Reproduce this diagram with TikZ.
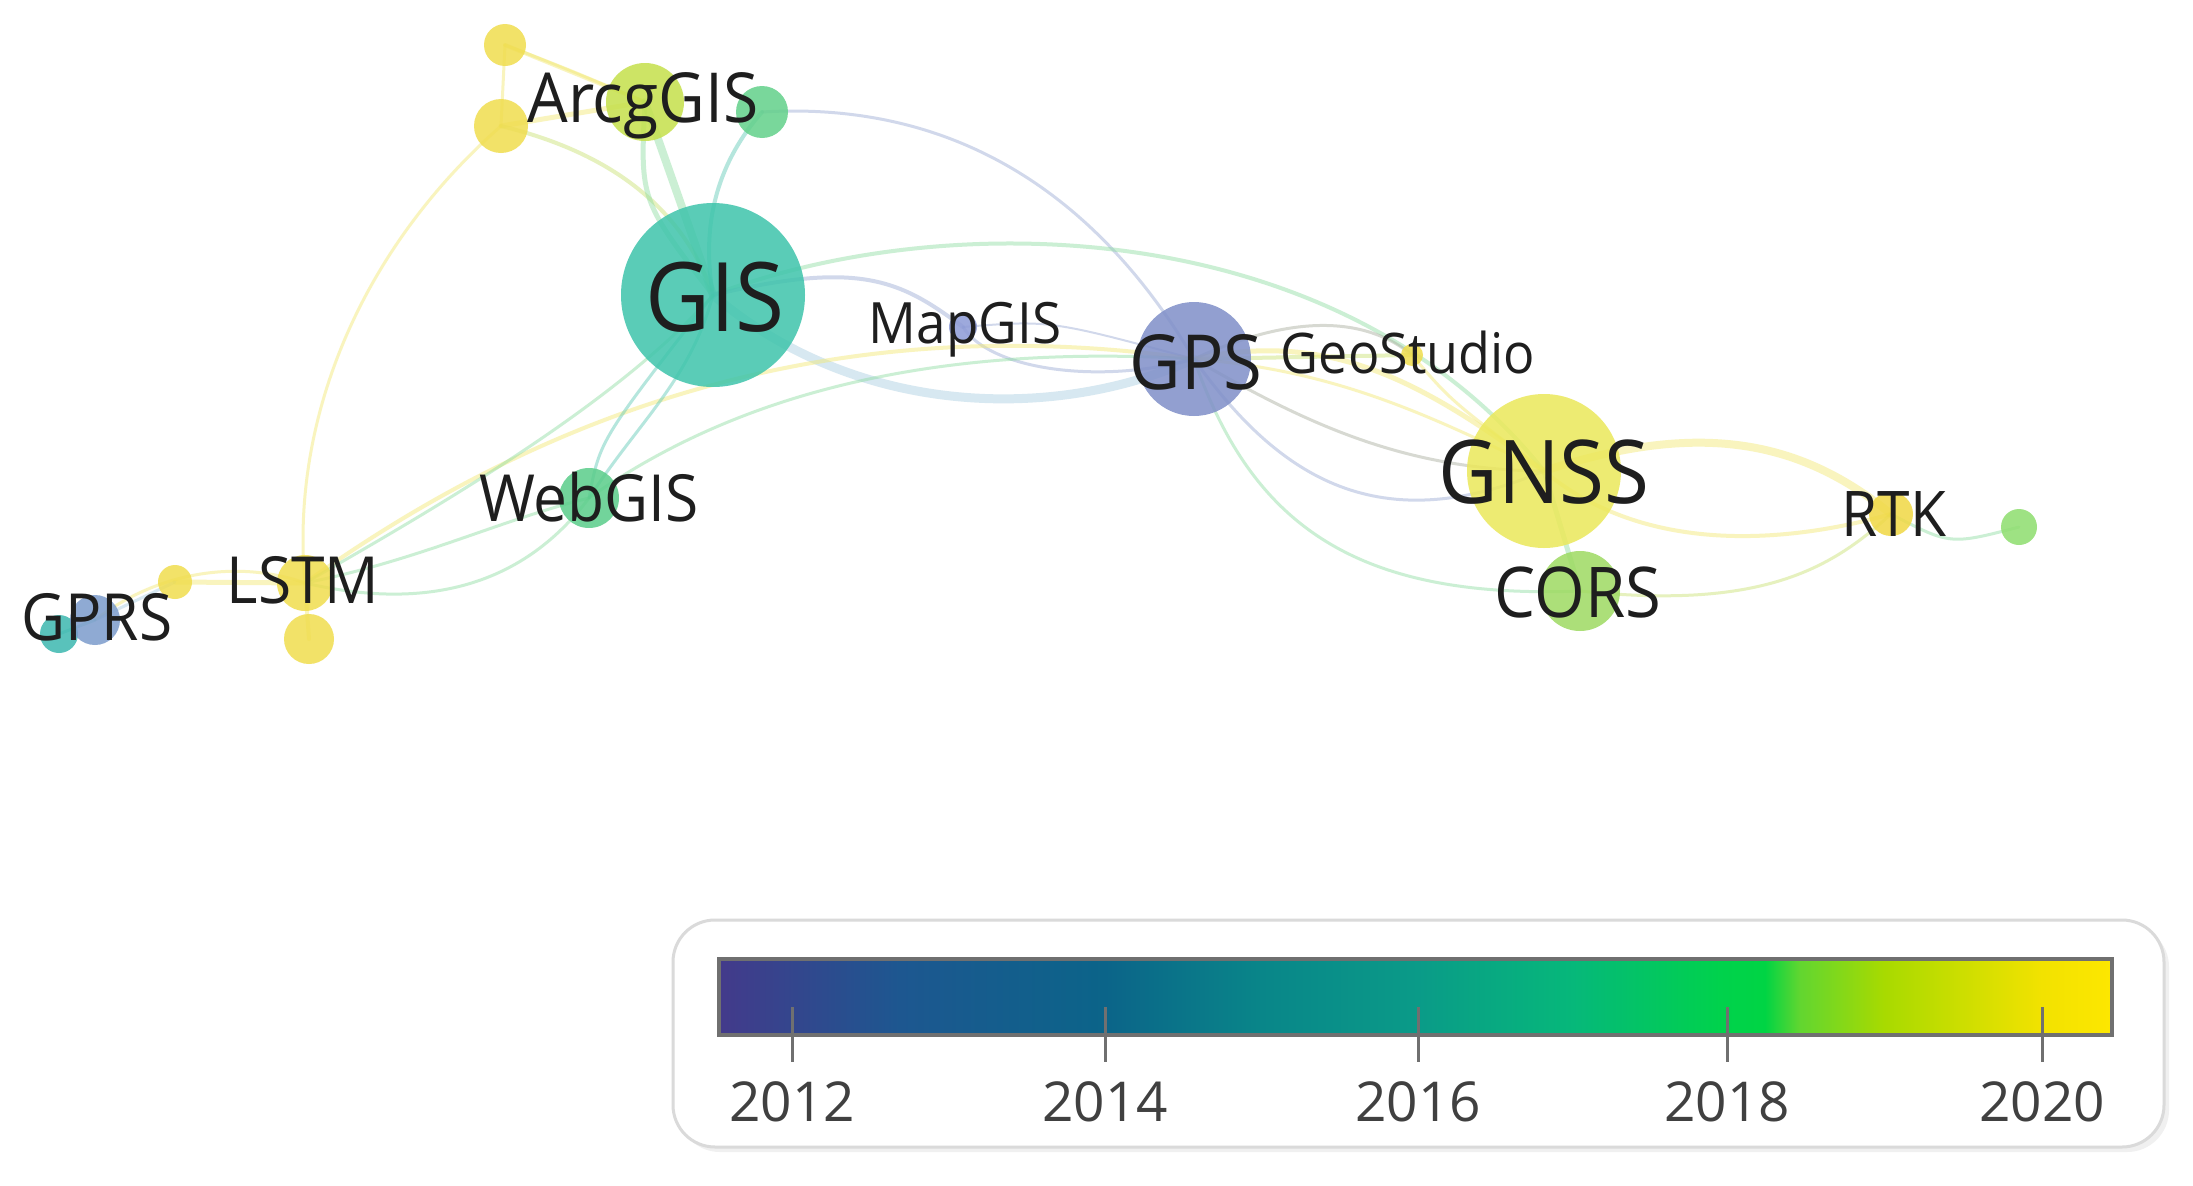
\documentclass[tikz,border=0pt]{standalone}
\usepackage{fontspec}
\setmainfont{Open Sans}
\newfontfamily\labfont{Open Sans}[FakeStretch=0.93]
\usetikzlibrary{backgrounds}
\definecolor{cGIS}{HTML}{3EC4AB}
\definecolor{cArc}{HTML}{C5E04B}
\definecolor{cYel}{HTML}{F0DD4E}
\definecolor{cGrn}{HTML}{62D08A}
\definecolor{cGPS}{HTML}{7F8FC8}
\definecolor{cMap}{HTML}{8D9AD6}
\definecolor{cGNSS}{HTML}{EBE85A}
\definecolor{cCORS}{HTML}{9EDA62}
\definecolor{cRTK}{HTML}{F0D844}
\definecolor{cGR}{HTML}{8EDE6E}
\definecolor{cGPRS}{HTML}{7C9CCC}
\definecolor{cTeal}{HTML}{3CB8B0}
\definecolor{cWeb}{HTML}{5ACD8A}
\definecolor{labc}{HTML}{1E1E1E}
\definecolor{eY}{HTML}{F2E870}
\definecolor{eYG}{HTML}{C8E070}
\definecolor{eG}{HTML}{8CDCA0}
\definecolor{eT}{HTML}{5CC8B4}
\definecolor{eB}{HTML}{9AAAD4}
\definecolor{eLB}{HTML}{A8CDE0}
\definecolor{eGray}{HTML}{A8AC9C}
\definecolor{barline}{HTML}{707070}
\definecolor{boxline}{HTML}{DADADA}
\definecolor{v0}{HTML}{433A8B}
\definecolor{v1}{HTML}{1D5790}
\definecolor{v2}{HTML}{0B6489}
\definecolor{v3}{HTML}{098689}
\definecolor{v4}{HTML}{0A9B88}
\definecolor{v5}{HTML}{06B87A}
\definecolor{v6}{HTML}{00D24C}
\definecolor{v7}{HTML}{00D444}
\definecolor{v8}{HTML}{62D630}
\definecolor{v9}{HTML}{A8DA00}
\definecolor{v10}{HTML}{F2E200}
\definecolor{v11}{HTML}{FDE700}
\begin{document}
\begin{tikzpicture}[x=1pt,y=-1pt,
  dot/.style={circle,inner sep=0pt,draw=none,fill opacity=0.85,minimum size=#1},
  lab/.style={text=labc,inner sep=0pt},
  edg/.style={opacity=0.45,line cap=round,line width=#1},
  tickl/.style={draw=barline,line width=3pt},
  yr/.style={text=labc!85,inner sep=0pt,font=\fontsize{55}{60}\selectfont}]
\useasboundingbox (0,0) rectangle (2193,1186);
% nodes
\node[dot=42,fill=cYel] (topY) at (505,45) {};
\node[dot=54,fill=cYel] (lY) at (501,126) {};
\node[dot=78,fill=cArc] (arc) at (645,102) {};
\node[dot=52,fill=cGrn] (gA) at (762,112) {};
\node[dot=184,fill=cGIS] (gis) at (713,295) {};
\node[dot=28,fill=cMap] (map) at (963,327) {};
\node[dot=114,fill=cGPS] (gps) at (1194,359) {};
\node[dot=22,fill=cYel] (geo) at (1412,355) {};
\node[dot=154,fill=cGNSS] (gnss) at (1544,471) {};
\node[dot=80,fill=cCORS] (cors) at (1580,591) {};
\node[dot=44,fill=cRTK] (rtk) at (1891,514) {};
\node[dot=36,fill=cGR] (gR) at (2019,527) {};
\node[dot=60,fill=cWeb] (web) at (589,498) {};
\node[dot=56,fill=cYel] (lstm) at (305,583) {};
\node[dot=50,fill=cYel] (lB) at (309,639) {};
\node[dot=34,fill=cYel] (sY) at (175,582) {};
\node[dot=38,fill=cTeal] (gT) at (59,634) {};
\node[dot=50,fill=cGPRS] (gprs) at (95,620) {};
% edges
\begin{scope}[on background layer]
\fill[white] (0,0) rectangle (2193,1186);
\draw[edg=4pt,eY] (topY.center) -- (arc.center);
\draw[edg=3pt,eY] (topY.center) .. controls (570,70) .. (arc.center);
\draw[edg=3pt,eY] (topY.center) -- (lY.center);
\draw[edg=5pt,eY] (lY.center) -- (arc.center);
\draw[edg=4pt,eYG] (lY.center) .. controls (600,150) and (680,200) .. (gis.center);
\draw[edg=8pt,eG] (arc.center) -- (gis.center);
\draw[edg=5pt,eG] (arc.center) .. controls (640,200) .. (gis.center);
\draw[edg=4pt,eT] (gA.center) .. controls (720,160) and (700,220) .. (gis.center);
\draw[edg=3pt,eB] (gA.center) .. controls (960,100) and (1100,200) .. (gps.center);
\draw[edg=4pt,eG] (gis.center) .. controls (950,205) and (1340,215) .. (gnss.center);
\draw[edg=4pt,eB] (gis.center) .. controls (860,260) and (900,280) .. (map.center);
\draw[edg=9pt,eLB] (gis.center) .. controls (860,420) and (1060,420) .. (gps.center);
\draw[edg=3pt,eB] (map.center) .. controls (990,370) and (1100,385) .. (gps.center);
\draw[edg=2pt,eB] (map.center) .. controls (1050,320) .. (gps.center);
\draw[edg=4pt,eY] (lstm.center) .. controls (560,400) and (850,310) .. (gps.center);
\draw[edg=3pt,eG] (web.center) .. controls (700,420) and (880,340) .. (gps.center);
\draw[edg=3pt,eT] (web.center) .. controls (640,420) and (690,380) .. (gis.center);
\draw[edg=3pt,eT] (web.center) .. controls (600,440) .. (gis.center);
\draw[edg=3pt,eG] (lstm.center) .. controls (450,500) and (620,400) .. (gis.center);
\draw[edg=3pt,eY] (lY.center) .. controls (360,250) and (290,420) .. (lstm.center);
\draw[edg=3pt,eG] (lstm.center) .. controls (420,560) and (500,520) .. (web.center);
\draw[edg=3pt,eG] (lstm.center) .. controls (420,610) and (520,590) .. (web.center);
\draw[edg=5pt,eY] (lstm.center) -- (sY.center);
\draw[edg=3pt,eY] (lstm.center) .. controls (240,560) and (160,570) .. (gprs.center);
\draw[edg=3pt,eLB] (sY.center) -- (gprs.center);
\draw[edg=4pt,eY] (lstm.center) -- (lB.center);
\draw[edg=3pt,eT] (gprs.center) -- (gT.center);
\draw[edg=3pt,eGray] (gps.center) .. controls (1300,310) and (1370,320) .. (geo.center);
\draw[edg=4pt,eYG] (gps.center) -- (geo.center);
\draw[edg=5pt,eY] (gps.center) .. controls (1330,330) and (1420,380) .. (gnss.center);
\draw[edg=3pt,eY] (gps.center) .. controls (1330,370) and (1420,410) .. (gnss.center);
\draw[edg=3pt,eGray] (gps.center) .. controls (1300,420) and (1400,470) .. (gnss.center);
\draw[edg=3pt,eB] (gps.center) .. controls (1280,480) and (1380,540) .. (gnss.center);
\draw[edg=3pt,eG] (gps.center) .. controls (1250,520) and (1350,600) .. (cors.center);
\draw[edg=3pt,eY] (geo.center) .. controls (1450,400) .. (gnss.center);
\draw[edg=5pt,eG] (gnss.center) -- (cors.center);
\draw[edg=8pt,eY] (gnss.center) .. controls (1700,420) and (1800,440) .. (rtk.center);
\draw[edg=4pt,eY] (gnss.center) .. controls (1650,560) and (1800,540) .. (rtk.center);
\draw[edg=3pt,eYG] (cors.center) .. controls (1760,610) and (1830,570) .. (rtk.center);
\draw[edg=3pt,eG] (rtk.center) .. controls (1950,545) .. (gR.center);
\end{scope}
% labels
\node[lab,font=\labfont\fontsize{96}{100}\selectfont] at (715,297) {GIS};
\node[lab,font=\labfont\fontsize{69}{74}\selectfont] at (643,106) {ArcgGIS};
\node[lab,font=\labfont\fontsize{57}{62}\selectfont] at (965,330) {MapGIS};
\node[lab,font=\labfont\fontsize{76}{80}\selectfont] at (1196,362) {GPS};
\node[lab,font=\labfont\fontsize{56}{62}\selectfont] at (1408,352) {GeoStudio};
\node[lab,font=\labfont\fontsize{88}{94}\selectfont] at (1544,472) {GNSS};
\node[lab,font=\labfont\fontsize{70}{76}\selectfont] at (1578,592) {CORS};
\node[lab,font=\labfont\fontsize{63}{68}\selectfont] at (1894,514) {RTK};
\node[lab,font=\labfont\fontsize{65}{70}\selectfont] at (589,497) {WebGIS};
\node[lab,font=\labfont\fontsize{65}{70}\selectfont] at (303,580) {LSTM};
\node[lab,font=\labfont\fontsize{65}{70}\selectfont] at (97,617) {GPRS};
% legend
\fill[black!6,rounded corners=42pt] (678,925) rectangle (2169,1152);
\node[draw=boxline,line width=3pt,rounded corners=42pt,fill=white,minimum width=1491pt,minimum height=227pt,inner sep=0pt] (legend) at (1418.5,1033.5) {};
\shade[left color=v0,right color=v1] (719,959) rectangle (900,1035);
\shade[left color=v1,right color=v2] (900,959) rectangle (1105,1035);
\shade[left color=v2,right color=v3] (1105,959) rectangle (1262,1035);
\shade[left color=v3,right color=v4] (1262,959) rectangle (1418,1035);
\shade[left color=v4,right color=v5] (1418,959) rectangle (1573,1035);
\shade[left color=v5,right color=v6] (1573,959) rectangle (1720,1035);
\shade[left color=v6,right color=v7] (1720,959) rectangle (1765,1035);
\shade[left color=v7,right color=v8] (1765,959) rectangle (1800,1035);
\shade[left color=v8,right color=v9] (1800,959) rectangle (1884,1035);
\shade[left color=v9,right color=v10] (1884,959) rectangle (2042,1035);
\shade[left color=v10,right color=v11] (2042,959) rectangle (2112,1035);
\node[draw=barline,line width=4pt,minimum width=1393pt,minimum height=76pt,inner sep=0pt] (bar) at (1415.5,997) {};
\foreach \x/\y in {792/2012,1105/2014,1418/2016,1727/2018,2042/2020}{
  \draw[tickl] (\x,1007) -- (\x,1062);
  \node[yr] at (\x,1102) {\y};
}
\end{tikzpicture}
\end{document}
